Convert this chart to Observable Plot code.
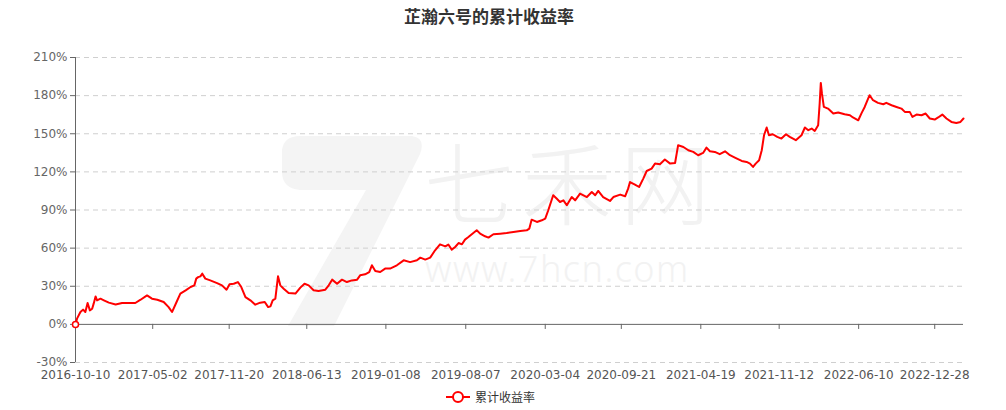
<!DOCTYPE html>
<html><head><meta charset="utf-8">
<script src="https://cdn.jsdelivr.net/npm/d3@7"></script>
<script src="https://cdn.jsdelivr.net/npm/@observablehq/plot@0.6"></script>
<style>
body{margin:0;background:#fff;}
#wrap{position:relative;width:1006px;height:410px;overflow:hidden;}
.wm{position:absolute;color:#f2f2f2;white-space:nowrap;}
#title{position:absolute;top:6px;left:0;width:978px;text-align:center;font:bold 17px "Noto Sans CJK SC";line-height:20px;color:#333;}
#chart{position:absolute;left:0;top:0;}
#legend{position:absolute;top:390px;left:445px;display:flex;align-items:center;font:12px "Noto Sans CJK SC";line-height:14px;color:#333;}
</style></head>
<body>
<div id="wrap">
  <svg class="wm" style="left:0;top:0" width="1006" height="410">
    <path d="M282 150 Q284 136 300 136 L412 136 Q426 138 420 154 L334 326 L288 326 L366 190 L300 190 Q282 188 282 172 Z" fill="#f4f4f4"/>
  </svg>
  <div class="wm" style="left:424px;top:134px;font:300 90px 'Noto Sans CJK SC';line-height:90px;letter-spacing:8px;">七禾网</div>
  <div class="wm" style="left:425px;top:251px;font:300 36px 'Noto Sans';line-height:36px;letter-spacing:1.5px;">www.7hcn.com</div>
  <div id="chart"></div>
  <div id="title">芷瀚六号的累计收益率</div>
  <div id="legend">
    <svg width="26" height="14"><line x1="1" y1="7" x2="25" y2="7" stroke="#ff0000" stroke-width="2"/><circle cx="13" cy="7" r="5" fill="#fff" stroke="#ff0000" stroke-width="2"/></svg>
    <span style="margin-left:4px">累计收益率</span>
  </div>
</div>
<script>
const dates = [
"2016-10-10","2016-10-14","2016-10-23","2016-10-30","2016-11-05","2016-11-11","2016-11-17","2016-11-23","2016-11-27","2016-12-02","2016-12-06","2016-12-15","2016-12-24",
"2017-01-06","2017-01-24","2017-02-10","2017-02-28","2017-03-17","2017-03-31","2017-04-17","2017-04-30","2017-05-14","2017-05-31","2017-06-13","2017-06-22","2017-07-04","2017-07-14","2017-07-28","2017-08-10","2017-08-20","2017-08-25","2017-08-30","2017-09-05","2017-09-10","2017-09-18","2017-10-01","2017-10-19","2017-11-01","2017-11-13","2017-11-21","2017-12-02","2017-12-13","2017-12-22",
"2018-01-02","2018-01-15","2018-01-28","2018-02-10","2018-02-22","2018-03-03","2018-03-09","2018-03-15","2018-03-22","2018-03-29","2018-04-04","2018-04-13","2018-04-26","2018-05-14","2018-05-27","2018-06-07","2018-06-18","2018-07-01","2018-07-14","2018-08-01","2018-08-10","2018-08-19","2018-09-01","2018-09-14","2018-09-27","2018-10-10","2018-10-24","2018-11-01","2018-11-14","2018-11-25","2018-12-02","2018-12-11","2018-12-24",
"2019-01-06","2019-01-19","2019-02-06","2019-02-24","2019-03-13","2019-03-31","2019-04-09","2019-04-22","2019-05-05","2019-05-18","2019-05-31","2019-06-14","2019-06-22","2019-07-01","2019-07-10","2019-07-19","2019-07-28","2019-08-05","2019-08-14","2019-08-27","2019-09-05","2019-09-14","2019-09-27","2019-10-06","2019-10-19","2019-11-06","2019-11-23","2019-12-11","2019-12-29",
"2020-01-15","2020-01-22","2020-01-28","2020-02-11","2020-02-24","2020-03-04","2020-03-12","2020-03-25","2020-04-03","2020-04-12","2020-04-21","2020-04-30","2020-05-13","2020-05-22","2020-06-04","2020-06-22","2020-07-05","2020-07-14","2020-07-22","2020-08-04","2020-08-22","2020-08-31","2020-09-18","2020-10-01","2020-10-09","2020-10-14","2020-10-27","2020-11-07","2020-11-18","2020-11-27","2020-12-10","2020-12-19",
"2021-01-01","2021-01-14","2021-01-28","2021-02-10","2021-02-18","2021-03-04","2021-03-17","2021-03-30","2021-04-12","2021-04-25","2021-05-04","2021-05-13","2021-05-26","2021-06-08","2021-06-22","2021-07-05","2021-07-18","2021-08-05","2021-08-18","2021-08-27","2021-09-04","2021-09-11","2021-09-20","2021-09-27","2021-10-03","2021-10-10","2021-10-16","2021-10-26","2021-11-07","2021-11-18","2021-11-30","2021-12-10","2021-12-26",
"2022-01-10","2022-01-19","2022-01-28","2022-02-06","2022-02-14","2022-02-23","2022-02-27","2022-03-02","2022-03-05","2022-03-10","2022-03-21","2022-04-04","2022-04-17","2022-05-04","2022-05-18","2022-05-26","2022-06-09","2022-06-18","2022-06-26","2022-07-05","2022-07-09","2022-07-18","2022-07-31","2022-08-14","2022-08-22","2022-09-05","2022-09-18","2022-10-01","2022-10-10","2022-10-23","2022-10-30","2022-11-10","2022-11-23","2022-12-04","2022-12-15","2022-12-28",
"2023-01-06","2023-01-17","2023-01-28","2023-02-10","2023-02-23","2023-03-06","2023-03-14"
];
const values = [
0,4.5,9.7,11.6,9.7,16.8,11,12.3,16.3,22,18.9,20.2,18.9,
17.1,15.7,16.8,16.8,16.8,19.4,22.8,20.2,19.4,17.6,13.6,9.7,17.6,24.2,26.8,29.4,30.7,36,37.2,37.8,39.9,36,34.6,32.5,30.7,27.3,31.5,32,33.3,29.4,
21.5,18.9,15.5,17.1,17.6,13.6,14.2,18.9,20.2,37.8,30.7,28.1,24.6,24.2,28.9,32,30.7,26.8,26.2,27.3,30.7,35.2,32,35.2,33.3,34.6,35.2,38.6,39.4,41.2,46.5,42,41.2,
43.9,43.9,46.5,50.4,49,50.4,52.5,51,52.5,58.3,63,61.4,62.8,58.8,60.9,64,63,66.7,68.7,71.9,74,71.4,69.3,68.3,70.9,71.4,71.9,72.7,73.5,
74,75.4,82.4,80.6,81.9,83.2,89.8,101.6,99,96.3,97.6,93.7,100.2,97.6,102.9,100.2,104.2,101.6,105,100.2,97.1,100.2,102.1,100.8,106.8,112,110,108.1,114.7,120.7,122.6,126.5,
126,129.7,126.5,127,140.9,139.6,137,135.7,133.1,134.9,139.1,136.2,135.7,133.9,136.2,133.1,131.2,128.6,127.8,126.5,123.9,126.5,129.1,137,148.8,154.9,148.8,149.6,147.5,146.2,149.6,147.5,144.9,
148.8,154.9,152.8,154.1,152.2,156.7,173.8,190,181.7,171.1,169.8,165.9,166.7,165.4,164.6,162.8,160.6,166.4,171.1,177.7,180.3,176.4,174.3,173.2,174.3,172.4,171.1,169.8,167.2,167.2,163.3,165.1,164.6,165.9,162,161.2,
162.8,165.1,162,159.3,158.5,159.3,162
];
const xTickLabels = ["2016-10-10","2017-05-02","2017-11-20","2018-06-13","2019-01-08","2019-08-07","2020-03-04","2020-09-21","2021-04-19","2021-11-12","2022-06-10","2022-12-28"];
const yTicks = [-30,0,30,60,90,120,150,180,210];

const data = dates.map((d,i)=>({date:new Date(d), value:values[i]}));
const xTicks = xTickLabels.map(d=>new Date(d));
const x0 = new Date(dates[0]), x1 = new Date(dates[dates.length-1]);

const chart = Plot.plot({
  width:1006, height:410,
  marginTop:57, marginBottom:48, marginLeft:75, marginRight:43,
  style:{background:"transparent", fontFamily:"'DejaVu Sans', sans-serif", fontSize:"12px"},
  x:{type:"utc", domain:[x0,x1]},
  y:{domain:[-30,210]},
  marks:[
    Plot.gridY(yTicks.filter(t=>t!==0), {stroke:"#cfcfcf", strokeOpacity:1, strokeDasharray:"5,4"}),
    Plot.axisY({ticks:yTicks, tickFormat:d=>d+"%", tickSize:5, tickPadding:3, color:"#666", label:null}),
    Plot.ruleX([x0], {y1:-30, y2:210, stroke:"#666"}),
    Plot.ruleY([0], {stroke:"#666"}),
    Plot.ruleX(xTicks, {y1:0, y2:-4, stroke:"#666"}),
    Plot.axisX({ticks:xTicks, tickFormat:d3.utcFormat("%Y-%m-%d"), tickSize:0, tickPadding:8, color:"#555", label:null}),
    Plot.line(data, {x:"date", y:"value", stroke:"#ff0000", strokeWidth:2}),
    Plot.dot(data.slice(0,1), {x:"date", y:"value", r:3, stroke:"#ff0000", fill:"#fff", strokeWidth:1.5})
  ]
});
document.getElementById("chart").appendChild(chart);
</script>
</body></html>
